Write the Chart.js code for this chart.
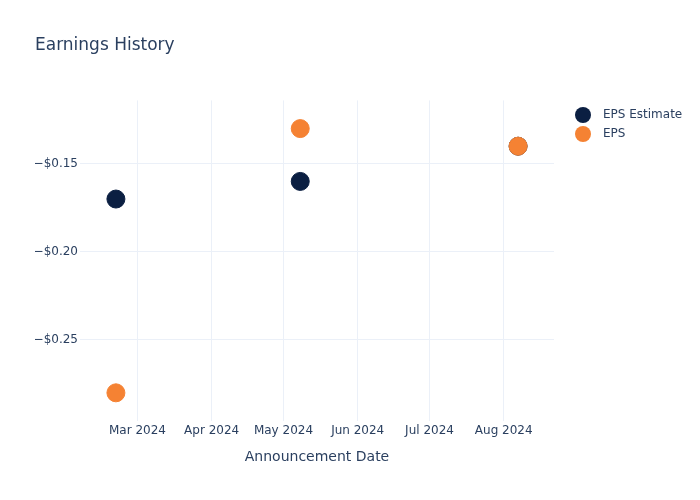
<!DOCTYPE html>
<html>
<head>
<meta charset="utf-8">
<script src="https://cdn.jsdelivr.net/npm/chart.js@4"></script>
<style>
  body { margin: 0; background: #fff; }
  #wrap { width: 700px; height: 500px; }
</style>
</head>
<body>
<div id="wrap"><canvas id="eps-chart"></canvas></div>
<script>
// data
const dates = ["2024-02-21", "2024-05-08", "2024-08-07"];
const epsEstimate = [-0.17, -0.16, -0.14];
const epsActual = [-0.28, -0.13, -0.14];
const monthTicks = ["2024-03-01", "2024-04-01", "2024-05-01", "2024-06-01", "2024-07-01", "2024-08-01"];
const yTicks = [-0.25, -0.2, -0.15];
const monthNames = ["Jan", "Feb", "Mar", "Apr", "May", "Jun", "Jul", "Aug", "Sep", "Oct", "Nov", "Dec"];

const textColor = "#2a3f5f";
const gridColor = "#ebf0f8";
const fontFamily = "'DejaVu Sans', sans-serif";

function toPoints(values) {
  return dates.map((d, i) => ({ x: Date.parse(d), y: values[i] }));
}

// plotly-like legend on the right
const sideLegend = {
  id: "sideLegend",
  afterDraw(chart) {
    const ctx = chart.ctx;
    ctx.save();
    ctx.font = "12px " + fontFamily;
    ctx.textBaseline = "middle";
    chart.data.datasets.forEach((ds, i) => {
      const y = 115 + i * 19;
      ctx.beginPath();
      ctx.arc(583, y, 8, 0, Math.PI * 2);
      ctx.fillStyle = ds.backgroundColor;
      ctx.fill();
      ctx.fillStyle = textColor;
      ctx.fillText(ds.label, 603, y);
    });
    ctx.restore();
  },
};

const config = {
  type: "scatter",
  data: {
    datasets: [
      {
        label: "EPS Estimate",
        data: toPoints(epsEstimate),
        backgroundColor: "#0b1f42",
        borderColor: "#0b1f42",
        pointRadius: 9,
        pointHoverRadius: 9,
        order: 1,
      },
      {
        label: "EPS",
        data: toPoints(epsActual),
        backgroundColor: "#f58233",
        borderColor: "#f58233",
        pointRadius: 9,
        pointHoverRadius: 9,
        order: 0,
      },
    ],
  },
  options: {
    responsive: true,
    maintainAspectRatio: false,
    animation: false,
    layout: { padding: { left: 35, right: 146, top: 0, bottom: 0 } },
    plugins: {
      legend: { display: false },
      tooltip: { enabled: false },
      title: {
        display: true,
        text: "Earnings History",
        align: "start",
        color: textColor,
        font: { family: fontFamily, size: 17, weight: "normal" },
        padding: { top: 35, bottom: 45 },
      },
    },
    scales: {
      x: {
        type: "linear",
        min: Date.parse("2024-02-06"),
        max: Date.parse("2024-08-22"),
        afterFit(scale) { scale.height = 79; },
        afterBuildTicks(scale) {
          scale.ticks = monthTicks.map((d) => ({ value: Date.parse(d) }));
        },
        ticks: {
          color: textColor,
          font: { family: fontFamily, size: 12 },
          padding: 3,
          maxRotation: 0,
          callback(value) {
            const d = new Date(value);
            return monthNames[d.getUTCMonth()] + " " + d.getUTCFullYear();
          },
        },
        grid: { color: gridColor, drawTicks: false },
        border: { display: false },
        title: {
          display: true,
          text: "Announcement Date",
          color: textColor,
          font: { family: fontFamily, size: 14 },
          padding: { top: 4, bottom: 34 },
        },
      },
      y: {
        min: -0.296,
        max: -0.114,
        afterFit(scale) { scale.width = 45; },
        afterBuildTicks(scale) {
          scale.ticks = yTicks.map((v) => ({ value: v }));
        },
        ticks: {
          color: textColor,
          font: { family: fontFamily, size: 12 },
          padding: 2,
          callback(value) {
            return "\u2212$" + Math.abs(value).toFixed(2);
          },
        },
        grid: { color: gridColor, drawTicks: false },
        border: { display: false },
      },
    },
  },
  plugins: [sideLegend],
};

const epsChart = new Chart(document.getElementById("eps-chart"), config);
</script>
</body>
</html>
